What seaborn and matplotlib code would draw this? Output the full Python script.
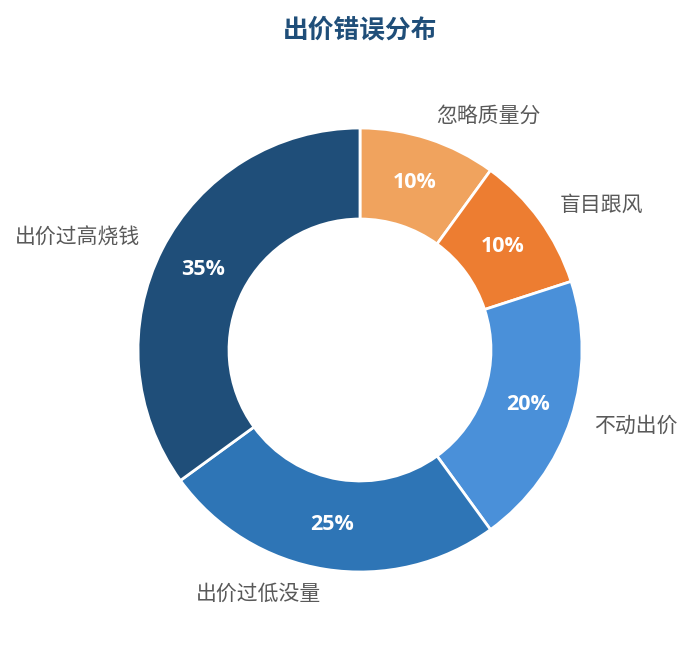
import matplotlib
matplotlib.use("Agg")
import matplotlib.pyplot as plt
import seaborn as sns

sns.set_theme(style="white")
plt.rcParams['font.family'] = ['Noto Sans CJK SC', 'DejaVu Sans']

# data (clockwise from top)
categories = ["忽略质量分", "盲目跟风", "不动出价", "出价过低没量", "出价过高烧钱"]
shares = [10, 10, 20, 25, 35]
colors = ["#F0A35E", "#ED7D31", "#4A90D9", "#2E75B6", "#1F4E79"]

fig = plt.figure(figsize=(6.93, 6.45), dpi=100)
ax = fig.add_axes([0, 0, 1, 1])

wedges, texts, autotexts = ax.pie(
    shares, labels=categories, colors=colors, startangle=90, counterclock=False,
    radius=1.0, labeldistance=1.11, pctdistance=0.795,
    autopct=lambda p: f"{p:.0f}%",
    wedgeprops=dict(width=0.41, edgecolor="white", linewidth=2),
    textprops=dict(fontsize=15, color="#595959"),
)
for t in autotexts:
    t.set_color("white")
    t.set_fontsize(15.5)
    t.set_fontweight("bold")
    t.set_fontfamily(["Open Sans", "DejaVu Sans"])

# center (360, 350) px, radius 222 px
unit = 222.0
ax.set_xlim(-360 / unit, (693 - 360) / unit)
ax.set_ylim(-(645 - 350) / unit, 350 / unit)
ax.set_aspect("auto")
ax.axis("off")

fig.text(0.5195, 1 - 30 / 645, "出价错误分布", ha="center", va="center",
         fontsize=18.5, fontweight="bold", color="#1F4E79")

fig.savefig("out.png", dpi=100)
plt.close(fig)
